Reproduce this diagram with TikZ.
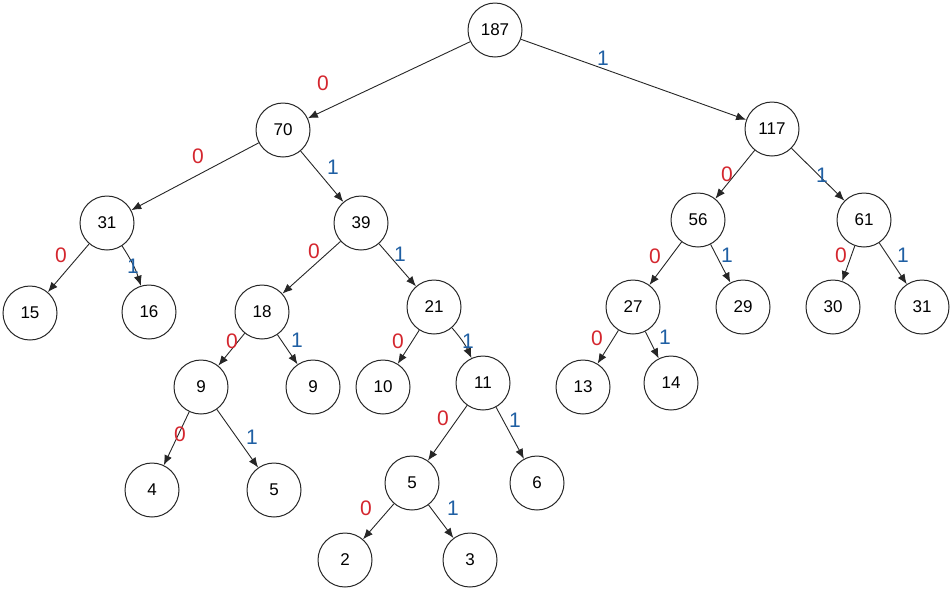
\documentclass[tikz,border=0pt]{standalone}
\usepackage{fontspec}
\setmainfont{Liberation Sans}
\usetikzlibrary{arrows.meta}
\definecolor{bitzero}{HTML}{D4262E}
\definecolor{bitone}{HTML}{1F5FA3}
\tikzset{weight/.style={draw=black!85,circle,minimum size=54pt,inner sep=0pt,line width=1pt,font=\fontsize{17}{19}\selectfont},branch/.style={draw=black!85,line width=.9pt,-{Latex[length=10pt,width=8pt]}},zero/.style={text=bitzero,inner sep=0pt,font=\fontsize{21}{24}\selectfont},one/.style={text=bitone,inner sep=0pt,font=\fontsize{21}{24}\selectfont}}

\begin{document}
\begin{tikzpicture}[x=1pt,y=1pt]
\useasboundingbox (0,0) rectangle (952,-590);
\node[weight] (r) at (495,-30) {187};
\node[weight] (c0) at (283,-130) {70};
\node[weight] (c1) at (772,-129) {117};
\node[weight] (c00) at (107,-223) {31};
\node[weight] (c01) at (361,-223) {39};
\node[weight] (c10) at (698,-220) {56};
\node[weight] (c11) at (864,-220) {61};
\node[weight] (c000) at (30,-313) {15};
\node[weight] (c001) at (149,-312) {16};
\node[weight] (c010) at (262,-312) {18};
\node[weight] (c011) at (434,-307) {21};
\node[weight] (c100) at (633,-307) {27};
\node[weight] (c101) at (743,-307) {29};
\node[weight] (c110) at (833,-307) {30};
\node[weight] (c111) at (922,-307) {31};
\node[weight] (c0100) at (201,-387) {9};
\node[weight] (c0101) at (313,-387) {9};
\node[weight] (c0110) at (383,-387) {10};
\node[weight] (c0111) at (483,-383) {11};
\node[weight] (c1000) at (583,-387) {13};
\node[weight] (c1001) at (671,-383) {14};
\node[weight] (c01000) at (152,-490) {4};
\node[weight] (c01001) at (274,-490) {5};
\node[weight] (c01110) at (412,-483) {5};
\node[weight] (c01111) at (537,-483) {6};
\node[weight] (c011100) at (345,-560) {2};
\node[weight] (c011101) at (470,-560) {3};
% branches
\draw[branch] (r) -- (c0);
\draw[branch] (r) -- (c1);
\draw[branch] (c0) -- (c00);
\draw[branch] (c0) -- (c01);
\draw[branch] (c1) -- (c10);
\draw[branch] (c1) -- (c11);
\draw[branch] (c00) -- (c000);
\draw[branch] (c00) to[bend left=8] (c001);
\draw[branch] (c01) -- (c010);
\draw[branch] (c01) -- (c011);
\draw[branch] (c10) -- (c100);
\draw[branch] (c10) -- (c101);
\draw[branch] (c11) -- (c110);
\draw[branch] (c11) -- (c111);
\draw[branch] (c010) -- (c0100);
\draw[branch] (c010) -- (c0101);
\draw[branch] (c011) -- (c0110);
\draw[branch] (c011) to[bend left=8] (c0111);
\draw[branch] (c100) -- (c1000);
\draw[branch] (c100) -- (c1001);
\draw[branch] (c0100) -- (c01000);
\draw[branch] (c0100) -- (c01001);
\draw[branch] (c0111) -- (c01110);
\draw[branch] (c0111) -- (c01111);
\draw[branch] (c01110) -- (c011100);
\draw[branch] (c01110) -- (c011101);
% bit labels
\node[zero] (b0) at (323,-83) {0};
\node[one] (b1) at (603,-58) {1};
\node[zero] (b00) at (198,-156) {0};
\node[one] (b01) at (333,-167) {1};
\node[zero] (b10) at (727,-174) {0};
\node[one] (b11) at (822,-175) {1};
\node[zero] (b000) at (61,-255) {0};
\node[one] (b001) at (133,-266) {1};
\node[zero] (b010) at (314,-251) {0};
\node[one] (b011) at (400,-254) {1};
\node[zero] (b100) at (655,-256) {0};
\node[one] (b101) at (727,-255) {1};
\node[zero] (b110) at (841,-255) {0};
\node[one] (b111) at (903,-255) {1};
\node[zero] (b0100) at (232,-341) {0};
\node[one] (b0101) at (297,-340) {1};
\node[zero] (b0110) at (398,-341) {0};
\node[one] (b0111) at (468,-341) {1};
\node[zero] (b1000) at (597,-338) {0};
\node[one] (b1001) at (665,-337) {1};
\node[zero] (b01000) at (180,-434) {0};
\node[one] (b01001) at (252,-437) {1};
\node[zero] (b01110) at (443,-418) {0};
\node[one] (b01111) at (515,-420) {1};
\node[zero] (b011100) at (366,-508) {0};
\node[one] (b011101) at (453,-508) {1};
\end{tikzpicture}
\end{document}
